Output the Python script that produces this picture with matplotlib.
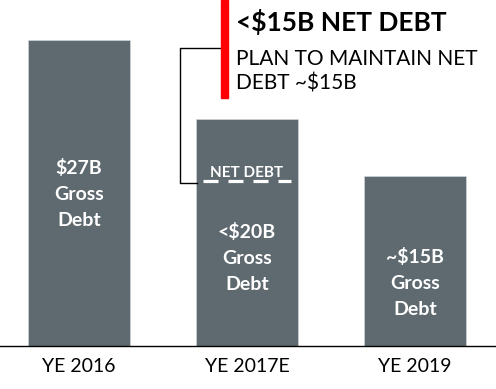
import matplotlib
matplotlib.use("Agg")
import matplotlib.pyplot as plt
from matplotlib.patches import Rectangle
from matplotlib.lines import Line2D

# ---- data ----
categories = ["YE 2016", "YE 2017E", "YE 2019"]
gross_debt = [27, 20, 15]
bar_labels = ["$27B\nGross\nDebt", "<$20B\nGross\nDebt", "~$15B\nGross\nDebt"]
label_y = [13.4, 7.75, 5.55]
net_debt_2017 = 14.55
title = "<$15B NET DEBT"
subtitle = "PLAN TO MAINTAIN NET\nDEBT ~$15B"

W, H = 496, 389
BAR = "#5E6A70"
FONT = "Lato"

plt.rcParams["font.family"] = [FONT, "DejaVu Sans"]
plt.rcParams["lines.scale_dashes"] = False

fig = plt.figure(figsize=(W / 100, H / 100), dpi=100)
base_px = 346
ax = fig.add_axes([0, (H - base_px) / H, 1, base_px / H])
ax.set_xlim(-0.470, 2.482)
ax.set_ylim(0, 30.48)

x = list(range(len(categories)))
width = 0.607
ax.bar(x, gross_debt, width=width, color=BAR, edgecolor="#d8dcde", linewidth=0.4)

for xi, lab, ly in zip(x, bar_labels, label_y):
    ax.text(xi, ly, lab, ha="center", va="center", color="white",
            fontsize=14, fontweight="bold", linespacing=1.65)

# net debt dashed line on 2017E bar
inset = 0.04
ax.plot([1 - width / 2 + inset, 1 + width / 2 - inset], [net_debt_2017, net_debt_2017],
        color="white", linewidth=2.3, linestyle=(0, (10.8, 7.2)),
        solid_capstyle="butt", dash_capstyle="butt")
ax.text(1, net_debt_2017 + 0.33, "NET DEBT", ha="center", va="baseline",
        color="white", fontsize=11, fontweight="bold")

ax.set_xticks(x)
ax.set_xticklabels(categories, fontsize=14)
ax.tick_params(axis="x", length=0, pad=9)
ax.set_yticks([])
for s in ["top", "left", "right"]:
    ax.spines[s].set_visible(False)
ax.spines["bottom"].set_linewidth(1.0)
ax.spines["bottom"].set_color("black")

def fx(px):
    return px / W

def fy(py):
    return 1 - py / H

# red bar
fig.patches.append(Rectangle((fx(221), fy(98)), fx(7), 98 / H, transform=fig.transFigure,
                             color="#FF0000", zorder=5))
# bracket
fig.add_artist(Line2D([fx(221), fx(180), fx(180), fx(197)],
                      [fy(48), fy(48), fy(183), fy(183)],
                      transform=fig.transFigure, color="black", linewidth=1.0))

fig.text(fx(236), fy(22), title, ha="left", va="center", fontsize=19,
         fontweight="bold", color="black")
fig.text(fx(236), fy(71), subtitle, ha="left", va="center", fontsize=15,
         color="black", linespacing=1.3)

fig.savefig("out.png", dpi=100)
